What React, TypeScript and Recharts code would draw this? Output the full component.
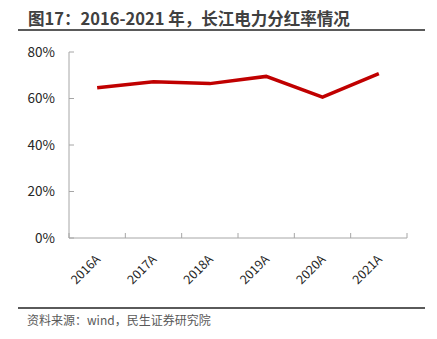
import { LineChart, Line, XAxis, YAxis } from 'recharts';

const years = ['2016A', '2017A', '2018A', '2019A', '2020A', '2021A'];
const payoutRatio = [64.6, 67.2, 66.4, 69.5, 60.6, 70.7];
const yTicks = [0, 20, 40, 60, 80];

const FONT = '"Noto Sans CJK SC", "Noto Sans", sans-serif';
const AXIS_GREY = '#a6a6a6';

// each year sits in the middle of its own slot on a 0..n axis
const data = years.map((year, i) => ({ year, pos: i + 0.5, ratio: payoutRatio[i] }));
// ticks at slot edges (short marks) and slot centres (year labels)
const xTicks = Array.from({ length: years.length * 2 + 1 }, (_, i) => i / 2);

function SlotTick({ x, y, payload }: any) {
  const v = payload.value;
  if (Number.isInteger(v)) {
    return <line x1={x} x2={x} y1={y} y2={y - 5} stroke={AXIS_GREY} />;
  }
  const ax = x + 4;
  const ay = y + 22;
  return (
    <text
      x={ax}
      y={ay}
      transform={`rotate(-45 ${ax} ${ay})`}
      textAnchor="end"
      fontSize={12.5}
      fill="#262626"
      fontFamily={FONT}
    >
      {years[Math.floor(v)]}
    </text>
  );
}

export default function App() {
  return (
    <div style={{ position: 'absolute', left: 0, top: 0, width: 437, height: 339, background: '#fff', fontFamily: FONT }}>
      <div
        style={{
          position: 'absolute',
          left: 28,
          top: 7,
          fontSize: 16.5,
          lineHeight: '22px',
          fontWeight: 700,
          color: '#404040',
          whiteSpace: 'nowrap',
        }}
      >
        图17：2016-2021 年，长江电力分红率情况
      </div>
      <div style={{ position: 'absolute', left: 18, top: 29, width: 407, height: 2, background: '#5a5a5a' }} />

      <div style={{ position: 'absolute', left: 0, top: 0 }}>
        <LineChart width={437} height={339} data={data} margin={{ top: 52, right: 30, bottom: 51, left: 0 }}>
          <XAxis
            dataKey="pos"
            type="number"
            domain={[0, years.length]}
            ticks={xTicks}
            allowDataOverflow
            height={50}
            interval={0}
            tickSize={0}
            tickMargin={0}
            tickLine={false}
            axisLine={{ stroke: AXIS_GREY }}
            tick={<SlotTick />}
          />
          <YAxis
            width={69}
            domain={[0, 80]}
            ticks={yTicks}
            tickFormatter={(v) => `${v}%`}
            tickSize={-5}
            tickMargin={19}
            axisLine={{ stroke: AXIS_GREY }}
            tickLine={{ stroke: AXIS_GREY }}
            tick={{ fontSize: 13.5, fill: '#262626', fontFamily: FONT }}
          />
          <Line
            type="linear"
            dataKey="ratio"
            stroke="#C00000"
            strokeWidth={3.5}
            dot={false}
            activeDot={false}
            isAnimationActive={false}
          />
        </LineChart>
      </div>

      <div style={{ position: 'absolute', left: 18, top: 307, width: 407, height: 2, background: '#5a5a5a' }} />
      <div
        style={{
          position: 'absolute',
          left: 27,
          top: 311,
          fontSize: 12,
          lineHeight: '18px',
          color: '#595959',
          whiteSpace: 'nowrap',
        }}
      >
        资料来源：wind，民生证券研究院
      </div>
    </div>
  );
}
